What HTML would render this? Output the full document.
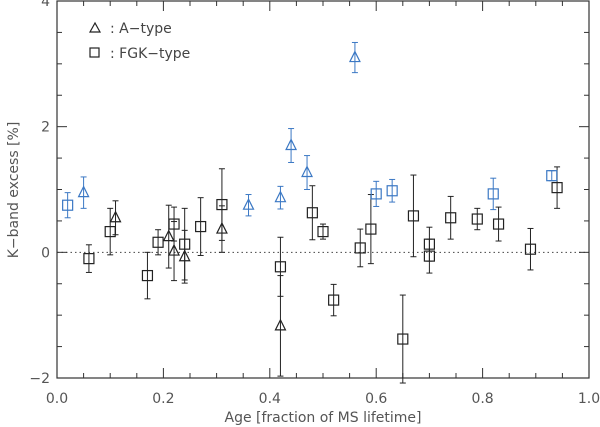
<!DOCTYPE html>
<html><head><meta charset="utf-8"><style>
body{margin:0;background:#fff;}
svg{display:block;font-family:"DejaVu Sans","Liberation Sans",sans-serif;}
</style></head><body>
<svg id="chart" width="600" height="427" viewBox="0 0 600 427" xmlns="http://www.w3.org/2000/svg"></svg>
<script>
const blueSqX=[0.02,0.60,0.63,0.82,0.93];
const blueSqY=[0.75,0.93,0.98,0.93,1.22];
const blueSqE=[0.20,0.20,0.18,0.25,0.08];
const blueTriX=[0.05,0.36,0.42,0.44,0.47,0.56];
const blueTriY=[0.95,0.75,0.87,1.70,1.27,3.10];
const blueTriE=[0.25,0.17,0.18,0.27,0.27,0.24];
const blkTriX=[0.11,0.21,0.22,0.24,0.31,0.42];
const blkTriY=[0.55,0.25,0.02,-0.07,0.37,-1.17];
const blkTriE=[0.27,0.50,0.47,0.42,0.37,0.80];
const blkSqX=[0.06,0.10,0.17,0.19,0.22,0.24,0.27,0.31,0.42,0.48,0.50,0.52,0.57,0.59,0.65,0.67,0.70,0.70,0.74,0.79,0.83,0.89,0.94];
const blkSqY=[-0.10,0.33,-0.37,0.16,0.45,0.13,0.41,0.76,-0.23,0.63,0.33,-0.76,0.07,0.37,-1.38,0.58,0.13,-0.06,0.55,0.53,0.45,0.05,1.03];
const blkSqE=[0.22,0.37,0.37,0.20,0.27,0.57,0.46,0.57,0.47,0.43,0.12,0.25,0.30,0.55,0.70,0.65,0.27,0.27,0.34,0.17,0.27,0.33,0.33];
const xTickLabels=["0.0","0.2","0.4","0.6","0.8","1.0"];
const yTickLabels=["−2","0","2","4"];

const L=57,R=589,T=1,B=378;
const X=v=>L+(v-0)/1*(R-L);
const Y=v=>B-(v+2)/6*(B-T);
const svg=document.getElementById('chart');
const NS='http://www.w3.org/2000/svg';
function mk(tag,attrs,name){const e=document.createElementNS(NS,tag);for(const k in attrs)e.setAttribute(k,attrs[k]);


svg.appendChild(e);return e;}
const axc='#333';
mk('rect',{x:L,y:T,width:R-L,height:B-T,fill:'none',stroke:axc,'stroke-width':1.2},'plot-frame');
mk('line',{x1:L,x2:R,y1:Y(0),y2:Y(0),stroke:'#444','stroke-dasharray':'1.5,3','stroke-width':1},'zero-line');
for(let i=0;i<=20;i++){const v=i*0.05,x=X(v),len=(i%4==0)?10:5;
mk('line',{x1:x,x2:x,y1:B,y2:B-len,stroke:axc},'x-tick');
mk('line',{x1:x,x2:x,y1:T,y2:T+len,stroke:axc},'x-tick-top');}
for(let i=0;i<=12;i++){const v=-2+i*0.5,y=Y(v),len=(i%4==0)?10:5;
mk('line',{x1:L,x2:L+len,y1:y,y2:y,stroke:axc},'y-tick');
mk('line',{x1:R,x2:R-len,y1:y,y2:y,stroke:axc},'y-tick-right');}
xTickLabels.forEach((t,i)=>{const e=mk('text',{x:X(i*0.2),y:403,'text-anchor':'middle','font-size':14,fill:'#555'},'x-tick-label');e.textContent=t;});
yTickLabels.forEach((t,i)=>{const e=mk('text',{x:50,y:Y(-2+i*2)+5,'text-anchor':'end','font-size':14,fill:'#555'},'y-tick-label');e.textContent=t;});
const xt=mk('text',{x:323,y:422,'text-anchor':'middle','font-size':14,fill:'#555'},'x-axis-title');xt.textContent='Age [fraction of MS lifetime]';
const yt=mk('text',{x:0,y:0,'text-anchor':'middle','font-size':14,fill:'#555',transform:'translate(18,190) rotate(-90)'},'y-axis-title');yt.textContent='K−band excess [%]';
function err(x,y,e,c){const px=X(x);mk('line',{x1:px,x2:px,y1:Y(y-e),y2:Y(y+e),stroke:c,'stroke-width':1},'error-bar');
mk('line',{x1:px-3,x2:px+3,y1:Y(y-e),y2:Y(y-e),stroke:c},'error-cap');
mk('line',{x1:px-3,x2:px+3,y1:Y(y+e),y2:Y(y+e),stroke:c},'error-cap');}
function sq(x,y,c,n){mk('rect',{x:X(x)-5,y:Y(y)-5,width:10,height:10,fill:'#fff','fill-opacity':0,stroke:c,'stroke-width':1.2},n);}
function tri(x,y,c,n){const px=X(x),py=Y(y);mk('polygon',{points:`${px},${py-6} ${px-5},${py+4} ${px+5},${py+4}`,fill:'none',stroke:c,'stroke-width':1.2},n);}
const blue='#3b78c4',blk='#222';
blkSqX.forEach((x,i)=>{err(x,blkSqY[i],blkSqE[i],blk);sq(x,blkSqY[i],blk,'fgk-point');});
blkTriX.forEach((x,i)=>{err(x,blkTriY[i],blkTriE[i],blk);tri(x,blkTriY[i],blk,'a-type-point');});
blueSqX.forEach((x,i)=>{err(x,blueSqY[i],blueSqE[i],blue);sq(x,blueSqY[i],blue,'fgk-excess-point');});
blueTriX.forEach((x,i)=>{err(x,blueTriY[i],blueTriE[i],blue);tri(x,blueTriY[i],blue,'a-type-excess-point');});
// legend
const lp=mk('polygon',{points:'95,23 90,32 100,32',fill:'none',stroke:blk,'stroke-width':1.2},'legend-triangle-marker');
const l1=mk('text',{x:110,y:33,'font-size':14,fill:'#444'},'legend-a-type');l1.textContent=': A−type';
mk('rect',{x:90,y:48,width:9,height:9,fill:'none',stroke:blk,'stroke-width':1.2},'legend-square-marker');
const l2=mk('text',{x:110,y:58,'font-size':14,fill:'#444'},'legend-fgk-type');l2.textContent=': FGK−type';
</script>
</body></html>
